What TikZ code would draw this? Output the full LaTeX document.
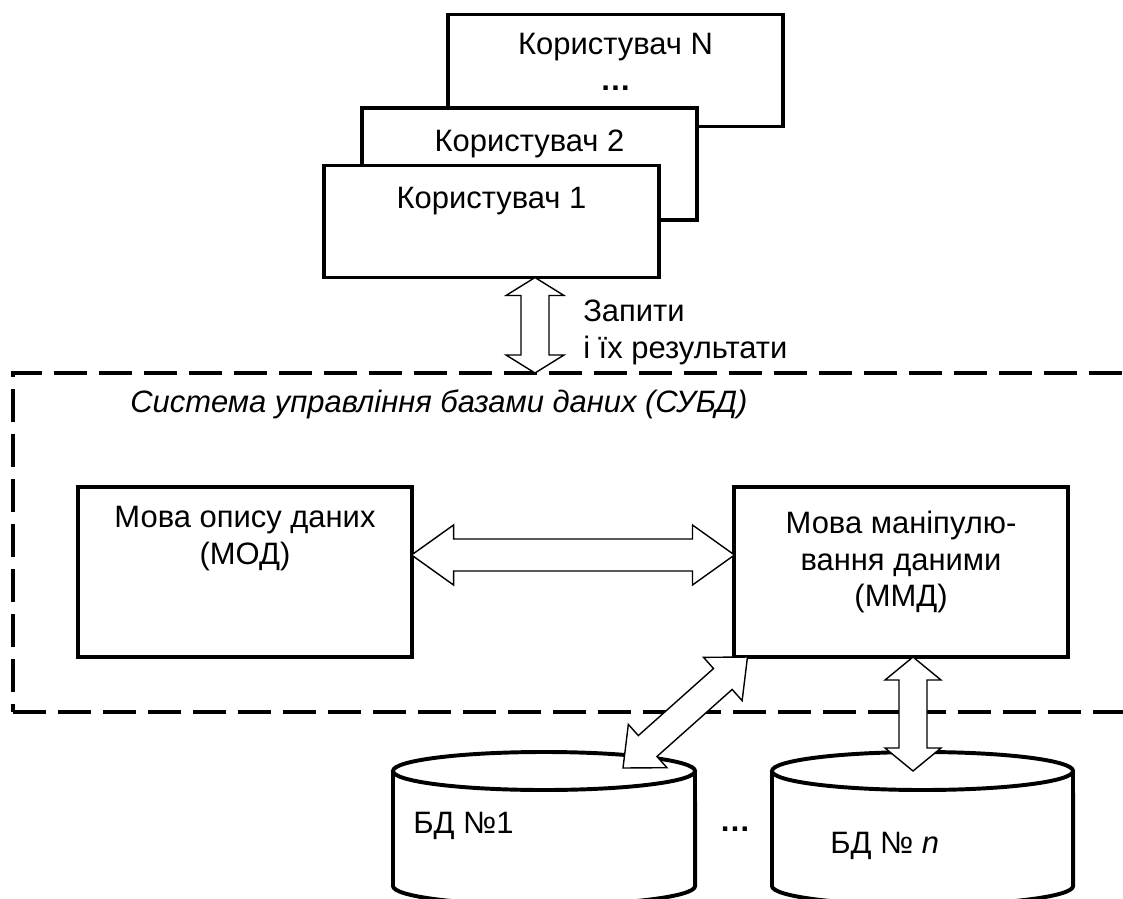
\documentclass[tikz,border=0pt]{standalone}
\usepackage{fontspec}
\setmainfont{Liberation Sans}
\usetikzlibrary{calc, positioning}
\tikzstyle{userbox} = [rectangle, draw=black, line width=2.8pt, fill=white, minimum width=8.375cm, minimum height=2.8cm, inner sep=0pt, outer sep=0pt]
\tikzstyle{langbox} = [rectangle, draw=black, line width=2.8pt, fill=white, minimum width=8.325cm, minimum height=4.25cm, inner sep=0pt, outer sep=0pt]
\tikzstyle{frame} = [rectangle, draw=black, line width=3pt, dash pattern=on 23.5pt off 8.5pt, minimum width=28.175cm, minimum height=8.475cm, inner sep=0pt, outer sep=0pt]
\tikzstyle{boxtext} = [inner sep=0pt, align=center]
\tikzstyle{db} = [draw=black, line width=2.8pt, fill=white]
\tikzstyle{blockarrow} = [draw=black, line width=1pt, fill=white, line join=miter]
% #1,#2 ends, #3 half shaft, #4 half head, #5 head length
\newcommand{\dblarrow}[5]{
  \draw [blockarrow] (#1)
    -- ($(#1)!#5!(#2)!#4!90:(#2)$) -- ($(#1)!#5!(#2)!#3!90:(#2)$)
    -- ($(#2)!#5!(#1)!#3!-90:(#1)$) -- ($(#2)!#5!(#1)!#4!-90:(#1)$)
    -- (#2)
    -- ($(#2)!#5!(#1)!#4!90:(#1)$) -- ($(#2)!#5!(#1)!#3!90:(#1)$)
    -- ($(#1)!#5!(#2)!#3!-90:(#2)$) -- ($(#1)!#5!(#2)!#4!-90:(#2)$)
    -- cycle;}

\begin{document}
\begin{tikzpicture}[x=0.025cm, y=-0.025cm, font=\fontsize{22}{26}\selectfont]
\useasboundingbox (0,0) rectangle (1123,899);
\clip (0,0) rectangle (1123,899);

\node (dbms) [frame] at (576.5,542.5) {};
\node (title) [anchor=base west, inner sep=0pt, font=\fontsize{22}{26}\selectfont\itshape] at (130,412) {Система управління базами даних (СУБД)};

% users
\node (uN) [userbox] at (615.5,70.5) {};
\node (uNtext) [boxtext, below=0.45cm of uN.north] {Користувач N\\\textbf{…}};
\node (u2) [userbox] at (529.5,164) {};
\node (u2text) [boxtext, below=0.55cm of u2.north] {Користувач 2};
\node (u1) [userbox] at (491.5,221.5) {};
\node (u1text) [boxtext, below=0.525cm of u1.north] {Користувач 1};

% languages
\node (mod) [langbox] at (245,572) {};
\node (modtext) [boxtext, below=0.475cm of mod.north] {Мова опису даних\\(МОД)};
\node (mmd) [langbox] at (901,572) {};
\node (mmdtext) [boxtext, below=0.6cm of mmd.north] {Мова маніпулю-\\вання даними\\(ММД)};

% databases
\draw [db] (393,771) -- (393,886) arc [start angle=180, end angle=360, x radius=3.775cm, y radius=0.475cm] -- (695,771);
\draw [db] (544,771) ellipse [x radius=3.775cm, y radius=0.475cm];
\node (db1) [anchor=base west, inner sep=0pt] at (413,833) {БД №1};
\draw [db] (772,771) -- (772,886) arc [start angle=180, end angle=360, x radius=3.7625cm, y radius=0.475cm] -- (1073,771);
\draw [db] (922.5,771) ellipse [x radius=3.7625cm, y radius=0.475cm];
\node (dbn) [anchor=base west, inner sep=0pt] at (830,853) {БД № \textit{n}};
\node (dbdots) [inner sep=0pt] at (735,829) {\textbf{…}};

\coordinate (req) at (535,373);
\coordinate (reqtop) at (u1.south -| req);
\coordinate (ctlL) at ([yshift=0.425cm]mod.east);
\coordinate (ctlR) at ([yshift=0.425cm]mmd.west);
\coordinate (mmdL) at ([xshift=0.325cm]mmd.south west);
\coordinate (mmdR) at ([xshift=0.3cm]mmd.south);
\coordinate (db1top) at (623,768);
\coordinate (dbntop) at (mmdR |- 0,771);

\node (reqtext) [anchor=north west, align=left, inner sep=0pt] at (583,300) {Запити\\і їх результати};

\dblarrow{reqtop}{req}{0.35cm}{0.725cm}{0.45cm}
\dblarrow{ctlL}{ctlR}{0.4cm}{0.75cm}{1.05cm}
\dblarrow{mmdL}{db1top}{0.35cm}{0.725cm}{0.825cm}
\dblarrow{mmdR}{dbntop}{0.35cm}{0.7cm}{0.575cm}
\end{tikzpicture}
\end{document}
